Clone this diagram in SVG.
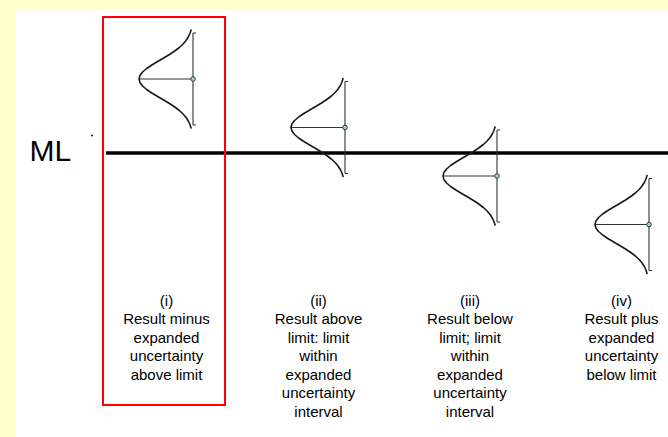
<svg xmlns="http://www.w3.org/2000/svg" width="668" height="437" viewBox="0 0 668 437">
<defs>
<style>
.lbl{font-family:"Liberation Sans",Arial,sans-serif;font-size:15px;fill:#000;text-anchor:middle}
.ml{font-family:"Liberation Sans",Arial,sans-serif;font-size:30px;fill:#000}
.bell{fill:none;stroke:#1a1a1a;stroke-width:1.6;stroke-linejoin:round;stroke-linecap:round}
.axis{fill:none;stroke:#333;stroke-width:1.1}
.pt{fill:#a9d0d0;stroke:#2a4040;stroke-width:1}
</style>
<g id="dist">
<path class="axis" d="M0,-46V46M0,-46H3M0,46H3M-54,0H0"/>
<path class="bell" d="M-1.94,-49L-3.07,-45.5L-4.69,-42L-6.93,-38.5L-9.9,-35L-13.66,-31.5L-18.23,-28L-23.52,-24.5L-29.32,-21L-35.33,-17.5L-41.16,-14L-46.35,-10.5L-50.46,-7L-53.09,-3.5L-54,0L-53.09,3.5L-50.46,7L-46.35,10.5L-41.16,14L-35.33,17.5L-29.32,21L-23.52,24.5L-18.23,28L-13.66,31.5L-9.9,35L-6.93,38.5L-4.69,42L-3.07,45.5L-1.94,49"/>
<circle class="pt" cx="0" cy="0" r="2.3"/>
</g>
</defs>
<rect x="0" y="0" width="668" height="437" fill="#FFFFCC"/>
<rect x="16" y="10" width="652" height="427" fill="#FFFFFF"/>
<g id="limit">
<text class="ml" x="29.5" y="161">ML</text>
<circle cx="92" cy="135.5" r="0.9" fill="#000"/>
<line x1="106" y1="153" x2="668" y2="153" stroke="#000" stroke-width="3.6"/>
</g>
<g id="highlight">
<rect x="103" y="17" width="122" height="388" fill="none" stroke="#FF0000" stroke-width="2"/>
</g>
<g id="case1">
<use href="#dist" x="193" y="79"/>
<text class="lbl"><tspan x="166.5" y="305.5">(i)</tspan><tspan x="166.5" y="324">Result minus</tspan><tspan x="166.5" y="342.5">expanded</tspan><tspan x="166.5" y="361">uncertainty</tspan><tspan x="166.5" y="379.5">above limit</tspan></text>
</g>
<g id="case2">
<use href="#dist" x="345" y="127.5"/>
<text class="lbl"><tspan x="318.5" y="305.5">(ii)</tspan><tspan x="318.5" y="324">Result above</tspan><tspan x="318.5" y="342.5">limit: limit</tspan><tspan x="318.5" y="361">within</tspan><tspan x="318.5" y="379.5">expanded</tspan><tspan x="318.5" y="398">uncertainty</tspan><tspan x="318.5" y="416.5">interval</tspan></text>
</g>
<g id="case3">
<use href="#dist" x="497" y="176"/>
<text class="lbl"><tspan x="470" y="305.5">(iii)</tspan><tspan x="470" y="324">Result below</tspan><tspan x="470" y="342.5">limit; limit</tspan><tspan x="470" y="361">within</tspan><tspan x="470" y="379.5">expanded</tspan><tspan x="470" y="398">uncertainty</tspan><tspan x="470" y="416.5">interval</tspan></text>
</g>
<g id="case4">
<use href="#dist" x="649" y="224.5"/>
<text class="lbl"><tspan x="621.5" y="305.5">(iv)</tspan><tspan x="621.5" y="324">Result plus</tspan><tspan x="621.5" y="342.5">expanded</tspan><tspan x="621.5" y="361">uncertainty</tspan><tspan x="621.5" y="379.5">below limit</tspan></text>
</g>
<g id="connectors"></g>
</svg>
